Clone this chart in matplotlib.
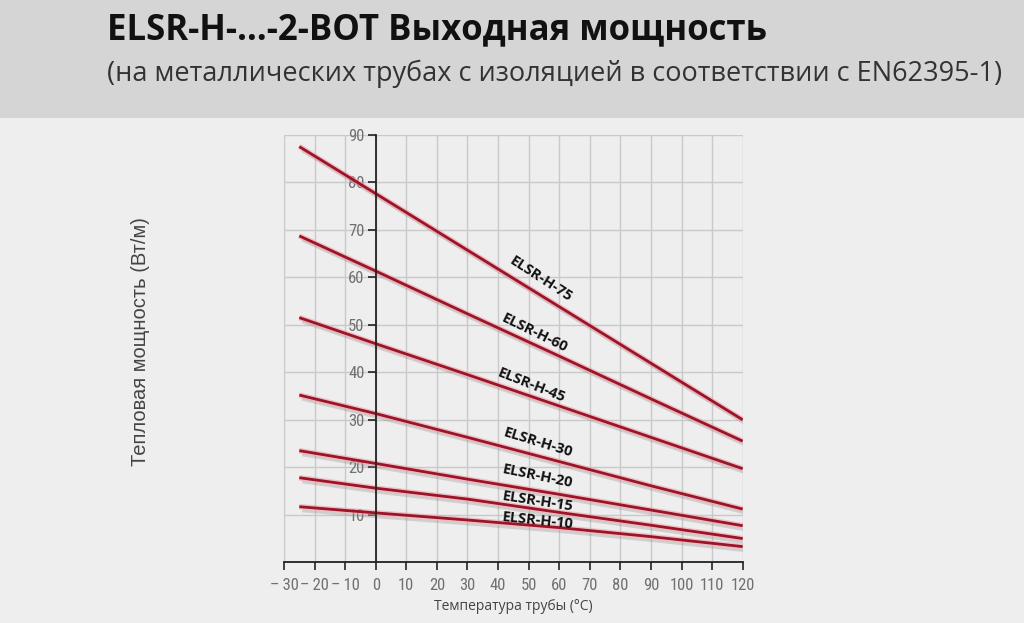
import matplotlib
matplotlib.use("Agg")
import matplotlib.pyplot as plt
import matplotlib.patheffects as pe
from matplotlib.patches import Rectangle
from matplotlib import font_manager as fm

# ---- data ----
temps = [-25, 0, 30, 60, 90, 120]
h75 = [87.5, 77.6, 65.7, 53.8, 41.9, 30.0]
h60 = [68.7, 61.3, 52.3, 43.4, 34.4, 25.5]
h45 = [51.5, 46.0, 39.5, 32.9, 26.3, 19.7]
h30 = [35.2, 31.3, 26.3, 21.2, 16.1, 11.2]
h20 = [23.5, 20.8, 17.5, 14.3, 11.0, 7.7]
h15 = [17.8, 15.6, 13.3, 10.5, 7.8, 5.0]
h10 = [11.7, 10.4, 8.9, 7.3, 5.4, 3.3]
series_names = ["ELSR-H-75", "ELSR-H-60", "ELSR-H-45", "ELSR-H-30",
                "ELSR-H-20", "ELSR-H-15", "ELSR-H-10"]
series_vals = [h75, h60, h45, h30, h20, h15, h10]
x_ticks = [-30, -20, -10, 0, 10, 20, 30, 40, 50, 60, 70, 80, 90, 100, 110, 120]
x_tick_labels = ["\u2013\u200930", "\u2013\u200920", "\u2013\u200910", "0", "10", "20", "30", "40",
                 "50", "60", "70", "80", "90", "100", "110", "120"]
y_ticks = [10, 20, 30, 40, 50, 60, 70, 80, 90]

# label placement (data coords) and rotation
label_pos = [(54, 59.5, -33), (52, 48.3, -26), (51, 37.3, -21.5), (53, 25.2, -17),
             (53, 18.1, -11.6), (53, 12.9, -8.7), (53, 8.8, -6)]

plt.rcParams['font.family'] = ['Open Sans', 'DejaVu Sans']

# pick a narrow face for tick labels if one is installed
installed = {f.name for f in fm.fontManager.ttflist}
tick_font, tick_size, tick_stretch = 'Roboto', 11, 'normal'
for cand, size in [('Liberation Sans Narrow', 12), ('Roboto Condensed', 12),
                   ('Open Sans Condensed', 12)]:
    if cand in installed:
        tick_font, tick_size = cand, size
        break
else:
    condensed = [f for f in fm.fontManager.ttflist
                 if f.name == 'DejaVu Sans' and f.stretch == 'condensed' and f.weight == 400
                 and f.style == 'normal']
    if condensed:
        tick_font, tick_size, tick_stretch = 'DejaVu Sans', 11, 'condensed'

W, H = 1024, 623
fig = plt.figure(figsize=(W / 100, H / 100), dpi=100)
fig.patch.set_facecolor('#eeeeee')
# header band
fig.patches.append(Rectangle((0, 1 - 118 / H), 1, 118 / H, transform=fig.transFigure,
                             facecolor='#d5d5d5', edgecolor='none', zorder=0))
fig.text(107 / W, 1 - 30 / H, "ELSR-H-\u2026-2-BOT Выходная мощность", fontsize=25,
         fontweight='bold', color='#111111', va='center', ha='left')
fig.text(107 / W, 1 - 74 / H, "(на металлических трубах с изоляцией в соответствии с EN62395-1)",
         fontsize=19.5, color='#333333', va='center', ha='left')

left, right, bottom, top = 284, 742.7, 562.3, 134.7
ax = fig.add_axes([left / W, 1 - bottom / H, (right - left) / W, (bottom - top) / H])
ax.set_facecolor('none')
ax.set_xlim(-30, 120)
ax.set_ylim(0, 90)

for xv in x_ticks:
    ax.plot([xv, xv], [0, 90], color='#c9c9c9', lw=1, zorder=1)
for yv in y_ticks:
    ax.plot([-30, 120], [yv, yv], color='#c9c9c9', lw=1, zorder=1)

for name, vals, (lx, ly, rot) in zip(series_names, series_vals, label_pos):
    ax.plot(temps, vals, color='#9b1427', lw=2.0, zorder=3, solid_capstyle='butt',
            path_effects=[pe.SimpleLineShadow(offset=(2, -3), shadow_color='#888888', alpha=0.3),
                          pe.Stroke(linewidth=4.0, foreground='#f0a0a8', alpha=0.6),
                          pe.Normal()])
    ax.text(lx, ly, name, rotation=rot, rotation_mode='anchor', fontsize=10.5,
            fontweight='bold', color='#111111', ha='center', va='center', zorder=4)

for s in ['top', 'right']:
    ax.spines[s].set_visible(False)
ax.spines['left'].set_position(('data', 0))
ax.spines['left'].set_color('#222222')
ax.spines['bottom'].set_color('#222222')
ax.spines['left'].set_linewidth(1.3)
ax.spines['bottom'].set_linewidth(1.3)
ax.spines['left'].set_zorder(5)

ax.set_xticks(x_ticks)
ax.set_xticklabels(x_tick_labels)
ax.set_yticks(y_ticks)
ax.tick_params(axis='both', colors='#222222', labelcolor='#707070', labelsize=tick_size,
               direction='out', length=6, width=1.2)
for lab in ax.get_xticklabels() + ax.get_yticklabels():
    lab.set_family([tick_font, 'DejaVu Sans'])
    lab.set_fontstretch(tick_stretch)
ax.tick_params(axis='x', pad=5)
ax.tick_params(axis='y', pad=2)

fig.text(513 / W, 1 - 606 / H, "Температура трубы (°C)", fontsize=10, color='#444444',
         ha='center', va='center')
fig.text(140 / W, 1 - 342 / H, "Тепловая мощность (Вт/м)", fontsize=14.5, color='#444444',
         ha='center', va='center', rotation=90, family=['Liberation Sans', 'DejaVu Sans'])

fig.savefig("out.png", dpi=100, facecolor=fig.get_facecolor())
